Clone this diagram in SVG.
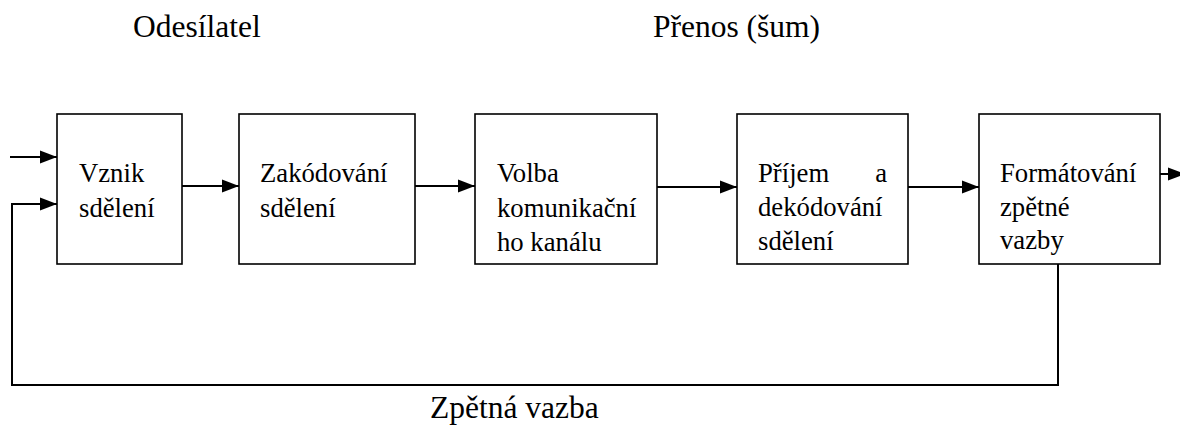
<svg xmlns="http://www.w3.org/2000/svg" width="1180" height="434" viewBox="0 0 1180 434">
<style>
.box{fill:#fff;stroke:#000;stroke-width:1.6}
.t{font-family:"Liberation Serif","Tinos","Times New Roman",Times,"Nimbus Roman","DejaVu Serif","Noto Serif",serif;font-size:26.7px;fill:#000}
.h{font-family:"Liberation Serif","Tinos","Times New Roman",Times,"Nimbus Roman","DejaVu Serif","Noto Serif",serif;font-size:31.5px;fill:#000}
.c{fill:none;stroke:#000;stroke-width:2}
</style>
<defs>
<marker id="ah" markerUnits="userSpaceOnUse" markerWidth="17" markerHeight="14" refX="17" refY="7" orient="auto" overflow="visible">
<polygon points="0,0.5 17,7 0,13.5" fill="#000"/>
</marker>
</defs>
<g id="titles">
<text class="h" x="133" y="37">Odesílatel</text>
<text class="h" x="653" y="37">Přenos (šum)</text>
<text class="h" x="430" y="418">Zpětná vazba</text>
</g>
<g id="connectors">
<line class="c" x1="10" y1="157" x2="57" y2="157" marker-end="url(#ah)"/>
<polyline class="c" points="1058,264 1058,385 12,385 12,204 57,204" marker-end="url(#ah)"/>
<line class="c" x1="182" y1="186" x2="239" y2="186" marker-end="url(#ah)"/>
<line class="c" x1="415" y1="186" x2="475" y2="186" marker-end="url(#ah)"/>
<line class="c" x1="657" y1="187" x2="737" y2="187" marker-end="url(#ah)"/>
<line class="c" x1="908" y1="187" x2="979" y2="187" marker-end="url(#ah)"/>
<line class="c" x1="1160" y1="174" x2="1185" y2="174" marker-end="url(#ah)"/>
</g>
<g id="n1">
<rect class="box" x="57" y="114" width="125" height="150"/>
<text class="t" x="79" y="182">Vznik</text>
<text class="t" x="79" y="217">sdělení</text>
</g>
<g id="n2">
<rect class="box" x="239" y="114" width="176" height="150"/>
<text class="t" x="260" y="182">Zakódování</text>
<text class="t" x="260" y="217">sdělení</text>
</g>
<g id="n3">
<rect class="box" x="475" y="114" width="182" height="150"/>
<text class="t" x="497" y="182">Volba</text>
<text class="t" x="497" y="217">komunikační</text>
<text class="t" x="497" y="251">ho kanálu</text>
</g>
<g id="n4">
<rect class="box" x="737" y="114" width="171" height="150"/>
<text class="t" x="758" y="182">Příjem</text>
<text class="t" x="887" y="182" text-anchor="end">a</text>
<text class="t" x="758" y="216">dekódování</text>
<text class="t" x="758" y="250">sdělení</text>
</g>
<g id="n5">
<rect class="box" x="979" y="114" width="181" height="150"/>
<text class="t" x="1000" y="182">Formátování</text>
<text class="t" x="1000" y="216">zpětné</text>
<text class="t" x="1000" y="249">vazby</text>
</g>
</svg>
